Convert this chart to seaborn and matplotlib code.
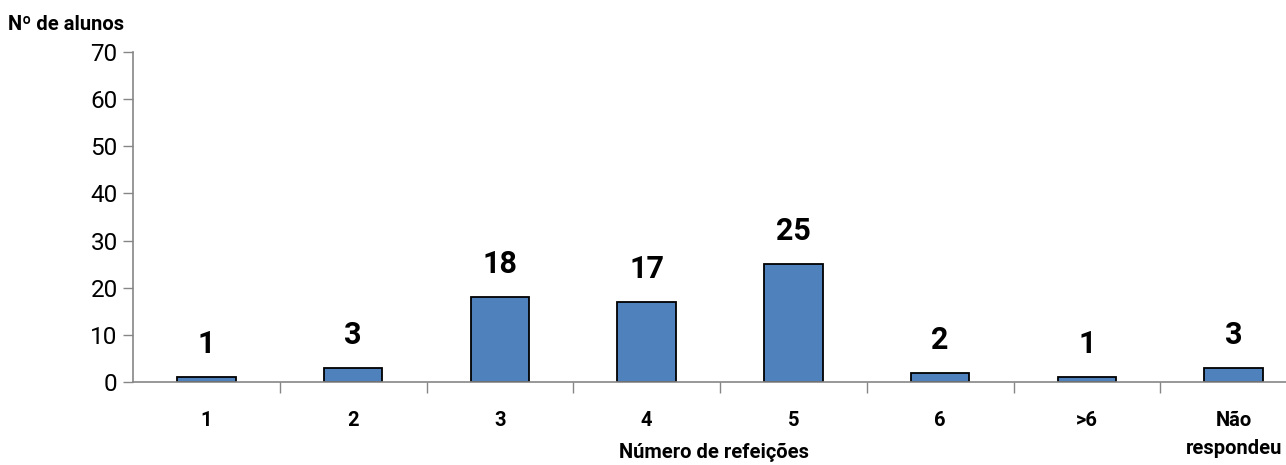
import matplotlib
matplotlib.use("Agg")
import matplotlib.pyplot as plt
import seaborn as sns
import numpy as np
import pandas as pd
from matplotlib.ticker import FixedLocator

categories = ["1", "2", "3", "4", "5", "6", ">6", "Não\nrespondeu"]
values = [1, 3, 18, 17, 25, 2, 1, 3]
yticks = [0, 10, 20, 30, 40, 50, 60, 70]

sns.set_theme(style="white")
plt.rcParams['font.family'] = ['Roboto', 'DejaVu Sans']
plt.rcParams['text.color'] = 'black'
plt.rcParams['xtick.labelcolor'] = 'black'
plt.rcParams['ytick.labelcolor'] = 'black'

df = pd.DataFrame({"cat": categories, "val": values})

fig = plt.figure(figsize=(12.86, 4.65), dpi=100)
# axes extends slightly beyond right edge (reference is cropped)
left = 133 / 1286
right = 1307 / 1286
bottom = 1 - 382 / 465
top = 1 - 52 / 465
ax = fig.add_axes([left, bottom, right - left, top - bottom])

sns.barplot(data=df, x="cat", y="val", color="#4F81BD", saturation=1,
            width=0.4, edgecolor="black", linewidth=1.3, ax=ax)

ax.set_xlim(-0.5, len(categories) - 0.5)
ax.set_ylim(0, 70)
ax.set_yticks(yticks)
ax.set_yticklabels([str(t) for t in yticks], fontsize=17.5, color="black")

for i, v in enumerate(values):
    ax.annotate(str(v), (i, v), xytext=(0, 13), textcoords="offset points",
                ha="center", va="bottom", fontsize=22, fontweight="bold",
                color="black")

ax.set_xticks(range(len(categories)))
ax.set_xticklabels(categories, fontsize=14.5, fontweight="bold", va="top",
                   linespacing=1.6, color="black")
ax.tick_params(axis="x", which="major", length=0, pad=21)
ax.xaxis.set_minor_locator(FixedLocator(np.arange(0.5, len(categories) - 0.5, 1)))
ax.tick_params(axis="x", which="minor", length=8, width=1, color="#868686",
               direction="out", bottom=True)
ax.tick_params(axis="y", length=7, width=1, color="#868686", direction="out",
               left=True, pad=4)

for s in ["top", "right"]:
    ax.spines[s].set_visible(False)
for s in ["left", "bottom"]:
    ax.spines[s].set_color("#868686")
    ax.spines[s].set_linewidth(1.2)

ax.set_xlabel("")
ax.set_ylabel("")
fig.text(714 / 1286, 1 - 452 / 465, "Número de refeições", ha="center",
         va="center", fontsize=14.5, fontweight="bold", color="black")
fig.text(8 / 1286, 1 - 24 / 465, "Nº de alunos", ha="left", va="center",
         fontsize=14.5, fontweight="bold", color="black")

fig.savefig("out.png", dpi=100)
